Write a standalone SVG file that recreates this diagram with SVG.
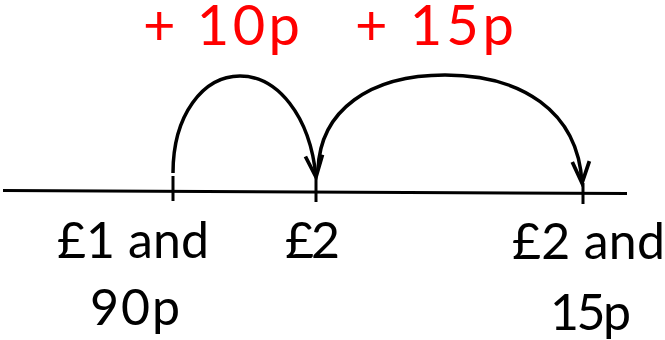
<svg xmlns="http://www.w3.org/2000/svg" width="665" height="340" viewBox="0 0 665 340">
<defs>
<style>
.lbl{font-family:Lato,"Open Sans","Liberation Sans",sans-serif;font-size:50px;fill:#000}
.jump{font-family:Lato,"Open Sans","Liberation Sans",sans-serif;font-size:56px;fill:#ff0000}
.ln{stroke:#000;stroke-width:3;fill:none}
.arc{stroke:#000;stroke-width:3.5;fill:none;marker-end:url(#chev)}
</style>
<marker id="chev" markerUnits="userSpaceOnUse" markerWidth="30" markerHeight="30" viewBox="-24 -12 28 24" refX="0" refY="0" orient="auto">
<path d="M-20,-8 L0,0 L-20,8" fill="none" stroke="#000" stroke-width="3.5" stroke-linejoin="miter"/>
</marker>
</defs>
<rect width="665" height="340" fill="#fff"/>
<g id="connectors">
<line class="ln" x1="3" y1="190.5" x2="627" y2="193.5"/>
<path class="arc" d="M173,173 C173,115 203,76 240,76 C277,76 310,115 316,177"/>
<path class="arc" d="M318,170 C320,110 370,75 445,75 C520,75 578,110 582,183"/>
</g>
<g id="tick-1">
<line class="ln" x1="173" y1="176" x2="173" y2="201"/>
<text class="lbl" x="57" y="258" textLength="152">£1 and</text>
<text class="lbl" x="90" y="325" textLength="90">90p</text>
</g>
<g id="tick-2">
<line class="ln" x1="316" y1="176" x2="316" y2="202"/>
<text class="lbl" x="285" y="258" textLength="55">£2</text>
</g>
<g id="tick-3">
<line class="ln" x1="583" y1="183" x2="583" y2="204"/>
<text class="lbl" x="512" y="259" textLength="153">£2 and</text>
<text class="lbl" x="550" y="330" textLength="81">15p</text>
</g>
<g id="jump-1">
<text class="jump" x="143" y="45" textLength="157">+ 10p</text>
</g>
<g id="jump-2">
<text class="jump" x="355" y="45" textLength="159">+ 15p</text>
</g>
</svg>
